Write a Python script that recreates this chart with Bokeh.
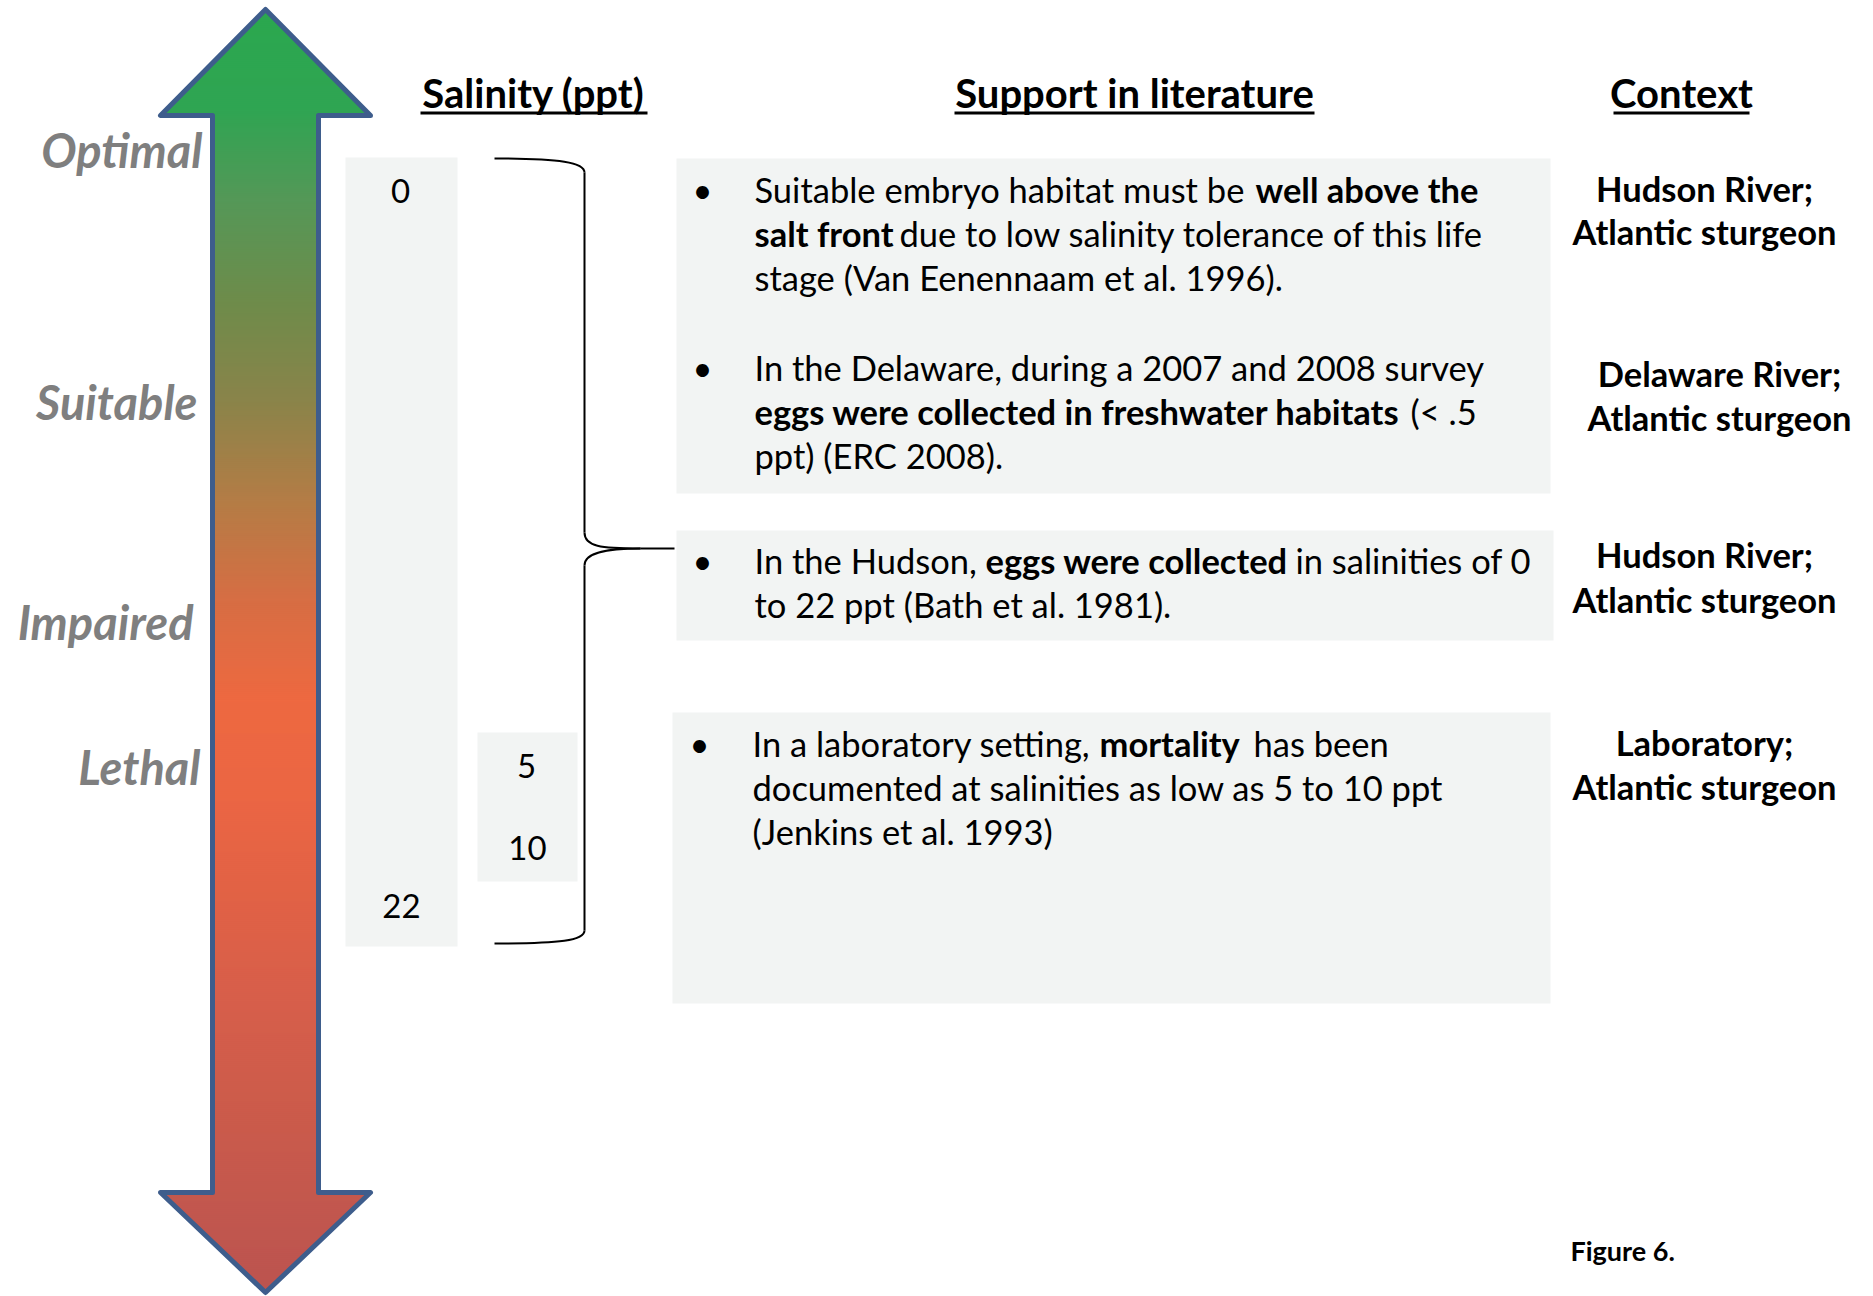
import numpy as np
from bokeh.plotting import figure
from bokeh.models import Range1d
from bokeh.core.properties import value
from bokeh.embed import file_html
from bokeh.resources import INLINE

# ---------------- data (text content) ----------------
levels = ["Optimal", "Suitable", "Impaired", "Lethal"]
headers = ["Salinity (ppt)", "Support in literature", "Context"]
salinity_all = ["0", "22"]          # range in long box
salinity_lab = ["5", "10"]          # laboratory range
lit_lines = [
    [("Suitable embryo habitat must be", False), ("well above the", True)],
    [("salt front", True), ("due to low salinity tolerance of this life", False)],
    [("stage (Van Eenennaam et al. 1996).", False)],
    [("In the Delaware, during a 2007 and 2008 survey", False)],
    [("eggs were collected in freshwater habitats", True), ("(< .5", False)],
    [("ppt) (ERC 2008).", False)],
    [("In the Hudson,", False), ("eggs were collected", True), ("in salinities of 0", False)],
    [("to 22 ppt (Bath et al. 1981).", False)],
    [("In a laboratory setting,", False), ("mortality", True), ("has been", False)],
    [("documented at salinities as low as 5 to 10 ppt", False)],
    [("(Jenkins et al. 1993)", False)],
]
context_top = ["Hudson River;", "Delaware River;", "Hudson River;", "Laboratory;"]
context_bottom = ["Atlantic sturgeon", "Atlantic sturgeon", "Atlantic sturgeon", "Atlantic sturgeon"]
caption = "Figure 6."

# ---------------- layout (pixel positions of the reference) ----------------
W, H = 1873, 1296
FONT = value("Lato")
ADJ = 0.4  # baseline correction (fraction of font size)

def by(y, size):
    return y - ADJ * size

S_LEVEL, S_HEAD, S_BODY, S_NUM, S_CAP = 47, 40, 34.5, 33, 27
level_x = [202, 197, 193, 200]
level_y = [168, 420, 640, 785]
header_x = [533, 1134, 1681]
header_y = 108
underline_x = [(420, 647), (954, 1314), (1613, 1749)]
seg_x = [[754, 1255], [754, 899], [754], [754], [754, 1410], [754],
         [754, 985, 1295], [754], [752, 1099, 1253], [752], [752]]
line_y = [203, 247, 291, 381, 425, 469, 574, 618, 757, 801, 845]
bullet_x = [702, 702, 702, 699]
bullet_y = [203, 381, 574, 757]
ctx_x = [1704, 1719, 1704, 1704]
ctx_y1 = [202, 387, 568, 756]
ctx_y2 = [245, 431, 613, 800]
lit_boxes = [(676, 1550, 158, 493), (676, 1553, 530, 640), (672, 1550, 712, 1003)]
sal_boxes = [(345, 457, 157, 946), (477, 577, 732, 881)]
BOX = "#F2F4F3"

p = figure(width=W, height=H, x_range=Range1d(0, W), y_range=Range1d(H, 0),
           output_backend="svg", toolbar_location=None, min_border=0,
           x_axis_type=None, y_axis_type=None)
p.grid.grid_line_color = None
p.outline_line_color = None
p.background_fill_color = "white"
p.border_fill_color = "white"

# ---- gradient double arrow ----
stops_y = [9, 110, 200, 300, 400, 500, 600, 700, 800, 900, 1000, 1100, 1200, 1292]
stops_c = [(43, 168, 79), (48, 165, 83), (85, 152, 88), (110, 140, 75), (138, 132, 74),
           (180, 125, 70), (215, 110, 68), (238, 105, 65), (235, 102, 68), (225, 98, 70),
           (215, 95, 75), (205, 92, 75), (195, 88, 78), (188, 84, 80)]
tip_top, base_top, base_bot, tip_bot = 9, 115, 1192, 1292
cx, hw_shaft, hw_head = 265, 53, 105
ys = np.arange(tip_top, tip_bot, 2.0)
lefts, rights, tops, bots, cols = [], [], [], [], []
sc = np.array(stops_c, dtype=float)
for y in ys:
    yc = y + 1
    if yc < base_top:
        hw = hw_head * (yc - tip_top) / (base_top - tip_top)
    elif yc > base_bot:
        hw = hw_head * (tip_bot - yc) / (tip_bot - base_bot)
    else:
        hw = hw_shaft
    r = np.interp(yc, stops_y, sc[:, 0]); g = np.interp(yc, stops_y, sc[:, 1]); b = np.interp(yc, stops_y, sc[:, 2])
    lefts.append(cx - hw); rights.append(cx + hw)
    tops.append(y); bots.append(y + 2.6)
    cols.append("#%02x%02x%02x" % (int(r), int(g), int(b)))
p.quad(left=lefts, right=rights, top=tops, bottom=bots, fill_color=cols, line_color=None)
ax = [cx, cx - hw_head, cx - hw_shaft, cx - hw_shaft, cx - hw_head, cx, cx + hw_head,
      cx + hw_shaft, cx + hw_shaft, cx + hw_head]
ay = [tip_top, base_top, base_top, base_bot, base_bot, tip_bot, base_bot, base_bot, base_top, base_top]
p.patch(ax + [ax[0]], ay + [ay[0]], fill_color=None, line_color="#3E5D8C", line_width=5,
        line_join="round")

# ---- level labels ----
p.text(x=level_x, y=[by(v, S_LEVEL) for v in level_y], text=levels, text_font=FONT,
       text_font_style="bold italic", text_font_size=f"{S_LEVEL}px", text_color="#7F7F7F",
       text_align="right", text_baseline="alphabetic")

# ---- headers ----
p.text(x=header_x, y=[by(header_y, S_HEAD)] * 3, text=headers, text_font=FONT, text_font_style="bold",
       text_font_size=f"{S_HEAD}px", text_color="black", text_align="center", text_baseline="alphabetic")
p.segment(x0=[u[0] for u in underline_x], x1=[u[1] for u in underline_x], y0=[112.5] * 3, y1=[112.5] * 3,
          line_color="black", line_width=3)

# ---- boxes ----
for (l, r, t, b) in sal_boxes + lit_boxes:
    p.quad(left=l, right=r, top=t, bottom=b, fill_color=BOX, line_color=None)

# ---- salinity numbers ----
p.text(x=[400, 401], y=[by(204, S_NUM), by(919, S_NUM)], text=salinity_all, text_font=FONT,
       text_font_size=f"{S_NUM}px", text_color="black", text_align="center", text_baseline="alphabetic")
p.text(x=[526, 527], y=[by(779, S_NUM), by(861, S_NUM)], text=salinity_lab, text_font=FONT,
       text_font_size=f"{S_NUM}px", text_color="black", text_align="center", text_baseline="alphabetic")

# ---- brace ----
p.bezier(x0=[494, 584, 640, 584], y0=[158, 532, 548, 930],
         x1=[584, 640, 584, 494], y1=[172, 548, 565, 943],
         cx0=[560, 584, 610, 584], cy0=[158, 546, 548, 940],
         cx1=[584, 600, 584, 560], cy1=[162, 548, 551, 943],
         line_color="black", line_width=2)
p.segment(x0=[584, 584, 640], y0=[172, 565, 548], x1=[584, 584, 674], y1=[532, 930, 548],
          line_color="black", line_width=2)

# ---- literature text ----
for segs, xs, yb in zip(lit_lines, seg_x, line_y):
    for (txt, bold), x0 in zip(segs, xs):
        p.text(x=[x0], y=[by(yb, S_BODY)], text=[txt], text_font=FONT, text_font_size=f"{S_BODY}px",
               text_font_style="bold" if bold else "normal", text_color="black",
               text_align="left", text_baseline="alphabetic")
p.text(x=bullet_x, y=[by(v, S_BODY) for v in bullet_y], text=["\u2022"] * 4, text_font=FONT,
       text_font_size=f"{S_BODY}px", text_color="black", text_align="center", text_baseline="alphabetic")

# ---- context ----
p.text(x=ctx_x, y=[by(v, S_BODY) for v in ctx_y1], text=context_top, text_font=FONT, text_font_style="bold",
       text_font_size=f"{S_BODY}px", text_color="black", text_align="center", text_baseline="alphabetic")
p.text(x=ctx_x, y=[by(v, S_BODY) for v in ctx_y2], text=context_bottom, text_font=FONT, text_font_style="bold",
       text_font_size=f"{S_BODY}px", text_color="black", text_align="center", text_baseline="alphabetic")

# ---- caption ----
p.text(x=[1570], y=[by(1261, S_CAP)], text=[caption], text_font=FONT, text_font_style="bold",
       text_font_size=f"{S_CAP}px", text_color="black", text_align="left", text_baseline="alphabetic")

open("out.html", "w").write(file_html(p, INLINE))
